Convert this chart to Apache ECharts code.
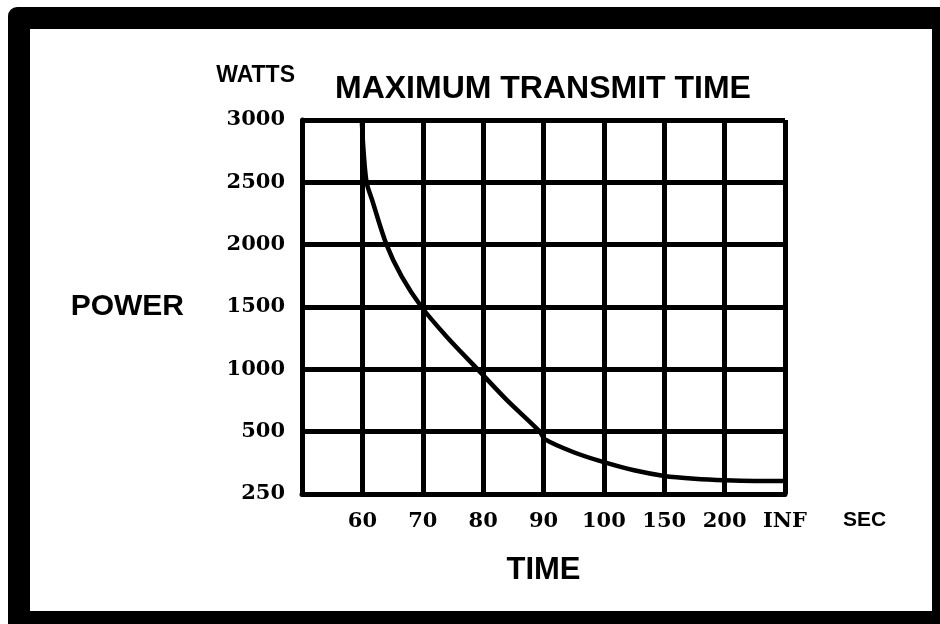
<!DOCTYPE html>
<html>
<head>
<meta charset="utf-8">
<script src="https://cdn.jsdelivr.net/npm/echarts@6/dist/echarts.min.js"></script>
<style>
    html, body { margin: 0; padding: 0; background: #fff; }
    #chart { width: 940px; height: 624px; }
</style>
</head>
<body>
<div id="chart"></div>
<script>
// axis tick labels (the scales are not linear, so each label sits on one grid step)
const timeLabels = ['', '60', '70', '80', '90', '100', '150', '200', 'INF'];
const powerLabels = ['250', '500', '1000', '1500', '2000', '2500', '3000'];

// curve, in grid steps along each axis
const curveTime  = [0.99, 1.02, 1.07, 1.16, 1.40, 1.65, 1.98, 2.40, 2.91, 3.39, 3.94, 4.02, 4.50, 5.00, 5.50, 6.00, 6.50, 7.00, 7.50, 7.97];
const curvePower = [6.00, 5.50, 5.00, 4.72, 4.00, 3.49, 3.00, 2.52, 2.00, 1.51, 1.00, 0.88, 0.67, 0.51, 0.38, 0.29, 0.245, 0.22, 0.21, 0.21];

const chart = echarts.init(document.getElementById('chart'));

const sansBold = {
    fontFamily: 'Liberation Sans',
    fontWeight: 'bold',
    color: '#000'
};

const serifLabel = {
    fontFamily: 'DejaVu Serif',
    fontWeight: 'bold',
    fontSize: 21,
    color: '#000'
};

const option = {
    backgroundColor: '#fff',
    animation: false,
    title: {
        text: 'MAXIMUM TRANSMIT TIME',
        left: 335,
        top: 73,
        padding: 0,
        textStyle: Object.assign({ fontSize: 32 }, sansBold)
    },
    grid: {
        left: 302,
        right: 155,
        top: 120,
        bottom: 130
    },
    xAxis: {
        type: 'value',
        min: 0,
        max: timeLabels.length - 1,
        interval: 1,
        name: 'TIME',
        nameLocation: 'middle',
        nameGap: 61,
        nameTextStyle: Object.assign({ fontSize: 31 }, sansBold),
        axisLine: { lineStyle: { color: '#000', width: 5, cap: 'round' } },
        axisTick: { show: false },
        axisLabel: Object.assign({
            margin: 17,
            formatter: (val) => timeLabels[Math.round(val)] || ''
        }, serifLabel),
        splitLine: { show: true, lineStyle: { color: '#000', width: 5 } }
    },
    yAxis: {
        type: 'value',
        min: 0,
        max: powerLabels.length - 1,
        interval: 1,
        name: 'POWER',
        nameLocation: 'middle',
        nameRotate: 0,
        nameGap: 118,
        nameTextStyle: Object.assign({ fontSize: 30 }, sansBold),
        axisLine: { show: true, lineStyle: { color: '#000', width: 5, cap: 'round' } },
        axisTick: { show: false },
        axisLabel: Object.assign({
            margin: 17,
            formatter: (val) => powerLabels[Math.round(val)] || ''
        }, serifLabel),
        splitLine: { show: true, lineStyle: { color: '#000', width: 5 } }
    },
    series: [{
        type: 'line',
        data: curveTime.map((t, i) => [t, curvePower[i]]),
        symbol: 'none',
        smooth: 0.3,
        z: 5,
        lineStyle: { color: '#000', width: 4.5 }
    }],
    graphic: [
        // black frame round the whole picture
        {
            type: 'rect',
            z: -10,
            shape: { x: 8, y: 7, width: 960, height: 630, r: 9 },
            style: { fill: '#000' }
        },
        {
            type: 'rect',
            z: -9,
            shape: { x: 30, y: 29, width: 902, height: 582 },
            style: { fill: '#fff' }
        },
        // WATTS above the power axis, SEC after the time axis
        {
            type: 'text',
            right: 940 - 295,
            top: 64,
            style: Object.assign({ text: 'WATTS', fontSize: 23, fill: '#000' }, sansBold)
        },
        {
            type: 'text',
            left: 843,
            top: 510,
            style: Object.assign({ text: 'SEC', fontSize: 21, fill: '#000' }, sansBold)
        }
    ]
};

chart.setOption(option);
</script>
</body>
</html>
